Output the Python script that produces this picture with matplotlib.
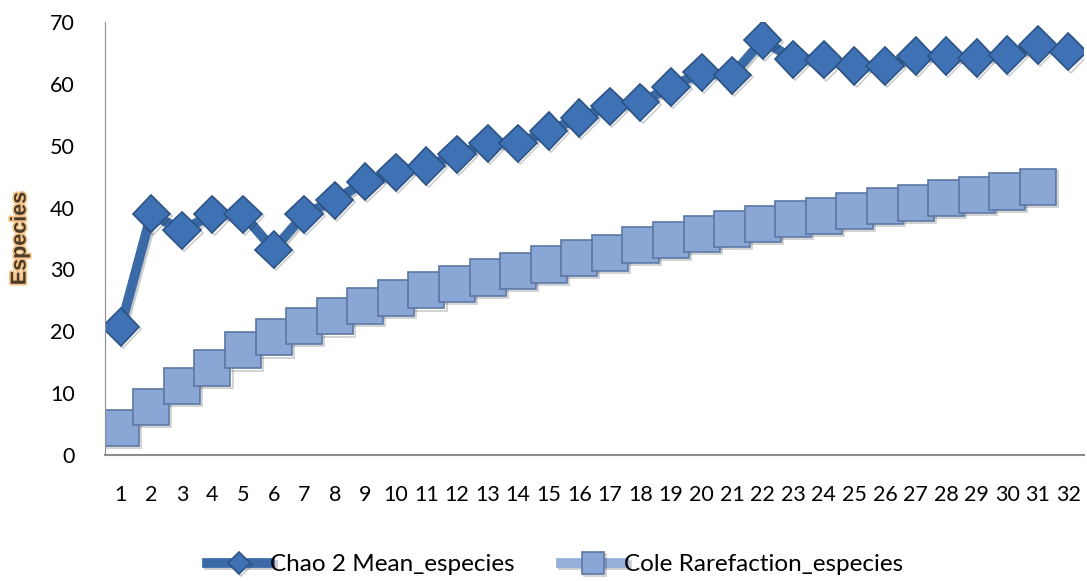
import matplotlib
matplotlib.use("Agg")
import matplotlib.pyplot as plt
import matplotlib.patheffects as pe

#### Data

muestras = list(range(1, 33))
chao2 = [20.7, 39.0, 36.3, 38.9, 38.9, 33.2, 38.9, 41.2, 44.2, 45.7,
         46.7, 48.6, 50.4, 50.4, 52.4, 54.5, 56.4, 57.0, 59.5, 61.9,
         61.4, 67.1, 64.0, 63.9, 62.9, 62.9, 64.5, 64.5, 64.2, 64.7,
         66.3, 65.2]
cole = [4.4, 7.8, 11.2, 14.1, 16.9, 19.0, 20.9, 22.4, 24.1, 25.4,
        26.6, 27.7, 28.7, 29.8, 30.8, 31.8, 32.7, 33.9, 34.7, 35.7,
        36.5, 37.3, 38.1, 38.7, 39.5, 40.2, 40.8, 41.5, 42.0, 42.6,
        43.4]
yticks = [0, 10, 20, 30, 40, 50, 60, 70]

plt.rcParams['font.family'] = ['Lato', 'DejaVu Sans']

#### Plot

fig = plt.figure(figsize=(10.87, 5.81), dpi=100)
ax = fig.add_axes([0.097, 0.217, 0.9, 0.745])

shadow = [pe.SimpleLineShadow(offset=(1.5, -1.5), alpha=0.2), pe.Normal()]

ax.plot(muestras, chao2, color="#3A6BA8", linewidth=7,
        marker="D", markersize=19, markerfacecolor="#3F72B5",
        markeredgecolor="#2C5386", markeredgewidth=1.2,
        label="Chao 2 Mean_especies", path_effects=shadow)
ax.plot(muestras[:len(cole)], cole, color="#95AEDA", linewidth=7,
        marker="s", markersize=26, markerfacecolor="#8AA6D4",
        markeredgecolor="#5C77A3", markeredgewidth=1.2,
        label="Cole Rarefaction_especies", path_effects=shadow)

ax.set_xlim(0.5, 32.5)
ax.set_ylim(0, 70)
ax.set_yticks(yticks)
ax.set_xticks(muestras)
ax.tick_params(axis="both", length=0, labelsize=15.5, colors="#000000")
ax.tick_params(axis="x", pad=22)
ax.tick_params(axis="y", pad=22)

for s in ["top", "right"]:
    ax.spines[s].set_visible(False)
ax.spines["left"].set_color("#8C8C8C")
ax.spines["bottom"].set_color("#8C8C8C")
ax.spines["bottom"].set_linewidth(1.5)

ax.set_ylabel("Especies", fontsize=15.5, fontweight="bold", color="#4A3A2A",
              family=["Liberation Sans", "DejaVu Sans"], labelpad=14,
              path_effects=[pe.withStroke(linewidth=2.5, foreground="#F5C58A")])

ax.legend(loc="center", bbox_to_anchor=(0.46, -0.254), ncol=2,
          frameon=False, fontsize=17.5, handlelength=2.6, handletextpad=0.0,
          columnspacing=1.9, markerscale=0.6, borderpad=0.2)

fig.savefig("out.png", dpi=100)
